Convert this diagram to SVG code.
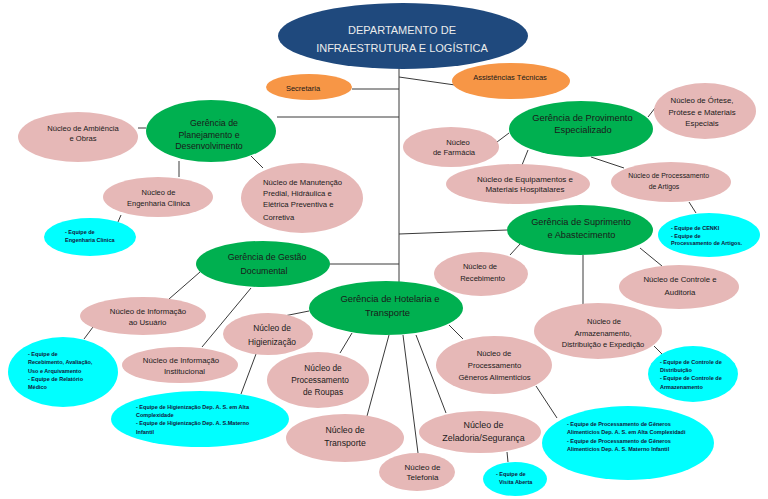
<svg xmlns="http://www.w3.org/2000/svg" width="768" height="499" viewBox="0 0 768 499">
<style>
.bg{fill:#ffffff}
.dept{fill:#1f497d}
.org{fill:#f79646}
.grn{fill:#00b050}
.pnk{fill:#e6b8b7}
.cyn{fill:#00ffff}
text{font-family:"Liberation Sans",Arial,sans-serif;fill:#1a1a1a}
.c{text-anchor:middle}
.dt{fill:#ececec;font-size:11px}
.ot{font-size:7.5px}
.eq{font-size:5.5px;font-weight:bold;fill:#10163a}
#connectors line{stroke:#3a3a3a;stroke-width:1}
</style>
<rect class="bg" x="0" y="0" width="768" height="499"/>
<g id="connectors">
<line x1="399" y1="68" x2="399" y2="282"/>
<line x1="352" y1="89" x2="399" y2="89"/>
<line x1="399" y1="77" x2="455" y2="85"/>
<line x1="277" y1="117" x2="399" y2="117"/>
<line x1="138" y1="128" x2="146" y2="128"/>
<line x1="179" y1="161" x2="179" y2="177"/>
<line x1="121" y1="215" x2="118" y2="222"/>
<line x1="251" y1="156" x2="263" y2="168"/>
<line x1="497" y1="142" x2="509" y2="133"/>
<line x1="648" y1="117" x2="655" y2="108"/>
<line x1="528" y1="150" x2="522" y2="165"/>
<line x1="591" y1="157" x2="624" y2="168"/>
<line x1="689" y1="202" x2="696" y2="213"/>
<line x1="399" y1="234" x2="507" y2="230"/>
<line x1="520" y1="244" x2="510" y2="255"/>
<line x1="640" y1="248" x2="662" y2="266"/>
<line x1="583" y1="255" x2="583" y2="304"/>
<line x1="654" y1="346" x2="663" y2="355"/>
<line x1="330" y1="264" x2="399" y2="264"/>
<line x1="200" y1="272" x2="169" y2="299"/>
<line x1="93" y1="327" x2="84" y2="339"/>
<line x1="251" y1="288" x2="202" y2="347"/>
<line x1="284" y1="316" x2="309" y2="311"/>
<line x1="256" y1="354" x2="241" y2="394"/>
<line x1="352" y1="333" x2="340" y2="353"/>
<line x1="389" y1="335" x2="367" y2="416"/>
<line x1="403" y1="335" x2="418" y2="453"/>
<line x1="416" y1="335" x2="446" y2="413"/>
<line x1="507" y1="452" x2="508" y2="462"/>
<line x1="449" y1="325" x2="463" y2="339"/>
<line x1="536" y1="386" x2="557" y2="418"/>
</g>

<g id="dept">
<ellipse class="dept" cx="403" cy="36" rx="125" ry="33"/>
<text class="c dt" x="402" y="34">DEPARTAMENTO DE</text>
<text class="c dt" x="402" y="52">INFRAESTRUTURA E LOGÍSTICA</text>
</g>

<g id="secretaria">
<ellipse class="org" cx="309" cy="87" rx="43" ry="13"/>
<text class="c ot" x="303" y="90.5">Secretaria</text>
</g>

<g id="assistencias">
<ellipse class="org" cx="511" cy="81" rx="59" ry="18"/>
<text class="c ot" x="510" y="79.5">Assistências Técnicas</text>
</g>

<g id="ger-planejamento">
<ellipse class="grn" cx="211" cy="131" rx="65" ry="31"/>
<text class="c" font-size="8.8" x="214" y="126">Gerência de</text>
<text class="c" font-size="8.8" x="209" y="137.5">Planejamento e</text>
<text class="c" font-size="8.8" x="209" y="149">Desenvolvimento</text>
</g>

<g id="nuc-ambiencia">
<ellipse class="pnk" cx="78" cy="137" rx="60" ry="25"/>
<text class="c" font-size="7.6" x="83" y="130.5">Núcleo de Ambiência</text>
<text class="c" font-size="7.6" x="83" y="140.5">e Obras</text>
</g>

<g id="nuc-engenharia">
<ellipse class="pnk" cx="158" cy="197" rx="55" ry="20"/>
<text class="c" font-size="7.5" x="158.5" y="194.5">Núcleo de</text>
<text class="c" font-size="7.5" x="158.5" y="205.5">Engenharia Clinica</text>
</g>

<g id="eq-engenharia">
<ellipse class="cyn" cx="90" cy="237" rx="46" ry="19"/>
<text class="eq" x="65" y="234">- Equipe de</text>
<text class="eq" x="65" y="242">Engenharia Clinica</text>
</g>

<g id="nuc-manutencao">
<ellipse class="pnk" cx="302" cy="198" rx="61" ry="35"/>
<text font-size="7.7" x="263" y="184.5">Núcleo de Manutenção</text>
<text font-size="7.7" x="263" y="195.5">Predial, Hidráulica e</text>
<text font-size="7.7" x="263" y="206.5">Elétrica Preventiva e</text>
<text font-size="7.7" x="263" y="219.5">Corretiva</text>
</g>

<g id="ger-provimento">
<ellipse class="grn" cx="581" cy="129" rx="72" ry="28"/>
<text class="c" font-size="9.3" x="582.5" y="121">Gerência de Provimento</text>
<text class="c" font-size="9.3" x="583" y="133">Especializado</text>
</g>

<g id="nuc-ortese">
<ellipse class="pnk" cx="705" cy="111" rx="51" ry="28"/>
<text class="c" font-size="7.8" x="702" y="102.6">Núcleo de Órtese,</text>
<text class="c" font-size="7.8" x="702" y="114.6">Prótese e Materiais</text>
<text class="c" font-size="7.8" x="702" y="125.6">Especiais</text>
</g>

<g id="nuc-farmacia">
<ellipse class="pnk" cx="451" cy="147" rx="48" ry="20"/>
<text class="c" font-size="7.6" x="458" y="144.5">Núcleo</text>
<text class="c" font-size="7.6" x="454" y="154.5">de Farmácia</text>
</g>

<g id="nuc-equipamentos">
<ellipse class="pnk" cx="518" cy="184" rx="72" ry="20"/>
<text class="c" font-size="8" x="525" y="181.6">Núcleo de Equipamentos e</text>
<text class="c" font-size="8" x="525" y="191.6">Materiais Hospitalares</text>
</g>

<g id="nuc-artigos">
<ellipse class="pnk" cx="671" cy="182" rx="60" ry="20"/>
<text class="c" font-size="6.9" x="668.7" y="178.3">Núcleo de Processamento</text>
<text class="c" font-size="6.9" x="664" y="189.3">de Artigos</text>
</g>

<g id="eq-cenki">
<ellipse class="cyn" cx="709" cy="235" rx="51" ry="22"/>
<text class="eq" x="671" y="230">- Equipe de CENKI</text>
<text class="eq" x="671" y="237.5">- Equipe de</text>
<text class="eq" x="671" y="245">Processamento de Artigos.</text>
</g>

<g id="ger-suprimento">
<ellipse class="grn" cx="580" cy="230" rx="73" ry="25"/>
<text class="c" font-size="9.2" x="581" y="225">Gerência de Suprimento</text>
<text class="c" font-size="9.2" x="581.5" y="238">e Abastecimento</text>
</g>

<g id="nuc-recebimento">
<ellipse class="pnk" cx="481" cy="274" rx="47" ry="22"/>
<text class="c" font-size="7.6" x="480" y="268.5">Núcleo de</text>
<text class="c" font-size="7.6" x="482.5" y="280.5">Recebimento</text>
</g>

<g id="nuc-controle">
<ellipse class="pnk" cx="679" cy="287" rx="60" ry="22"/>
<text class="c" font-size="7.8" x="680" y="281.6">Núcleo de Controle e</text>
<text class="c" font-size="7.8" x="680" y="294.6">Auditoria</text>
</g>

<g id="nuc-armazenamento">
<ellipse class="pnk" cx="598" cy="331" rx="64" ry="28"/>
<text class="c" font-size="7.5" x="604" y="323.5">Núcleo de</text>
<text class="c" font-size="7.5" x="603" y="335.5">Armazenamento,</text>
<text class="c" font-size="7.5" x="603" y="346.5">Distribuição e Expedição</text>
</g>

<g id="eq-armazenamento">
<ellipse class="cyn" cx="693" cy="374" rx="45" ry="28"/>
<text class="eq" x="660" y="364">- Equipe de Controle de</text>
<text class="eq" x="660" y="372">Distribuição</text>
<text class="eq" x="660" y="380">- Equipe de Controle de</text>
<text class="eq" x="660" y="389">Armazenamento</text>
</g>

<g id="ger-gestao">
<ellipse class="grn" cx="263" cy="264" rx="67" ry="23"/>
<text class="c" font-size="8.8" x="267" y="260">Gerência de Gestão</text>
<text class="c" font-size="8.8" x="264" y="274">Documental</text>
</g>

<g id="ger-hotelaria">
<ellipse class="grn" cx="386" cy="308" rx="77" ry="27"/>
<text class="c" font-size="9.4" x="390" y="302">Gerência de Hotelaria e</text>
<text class="c" font-size="9.4" x="387.5" y="316">Transporte</text>
</g>

<g id="nuc-info-usuario">
<ellipse class="pnk" cx="143" cy="316" rx="63" ry="19"/>
<text class="c" font-size="7.8" x="148" y="313.6">Núcleo de Informação</text>
<text class="c" font-size="7.8" x="147.5" y="324.6">ao Usuário</text>
</g>

<g id="eq-recebimento">
<ellipse class="cyn" cx="63" cy="372" rx="55" ry="35"/>
<text class="eq" x="28" y="356">- Equipe de</text>
<text class="eq" x="28" y="364">Recebimento, Avaliação,</text>
<text class="eq" x="28" y="373">Uso e Arquivamento</text>
<text class="eq" x="28" y="381">- Equipe de Relatório</text>
<text class="eq" x="28" y="389">Médico</text>
</g>

<g id="nuc-info-inst">
<ellipse class="pnk" cx="180" cy="365" rx="58" ry="18"/>
<text class="c" font-size="7.8" x="181" y="362.6">Núcleo de Informação</text>
<text class="c" font-size="7.8" x="184.5" y="373.6">Institucional</text>
</g>

<g id="nuc-higienizacao">
<ellipse class="pnk" cx="268" cy="334" rx="45" ry="21"/>
<text class="c" font-size="8.4" x="272" y="330.8">Núcleo de</text>
<text class="c" font-size="8.4" x="272" y="344.8">Higienização</text>
</g>

<g id="eq-higienizacao">
<ellipse class="cyn" cx="200" cy="419" rx="89" ry="28"/>
<text class="eq" x="136" y="409">- Equipe de Higienização Dep. A. S. em Alta</text>
<text class="eq" x="136" y="416.5">Complexidade</text>
<text class="eq" x="136" y="425.3">- Equipe de Higienização Dep. A. S.Materno</text>
<text class="eq" x="136" y="433.7">Infantil</text>
</g>

<g id="nuc-roupas">
<ellipse class="pnk" cx="318" cy="380" rx="51" ry="28"/>
<text class="c" font-size="8.3" x="323" y="370.8">Núcleo de</text>
<text class="c" font-size="8.3" x="320" y="382.8">Processamento</text>
<text class="c" font-size="8.3" x="323" y="394.8">de Roupas</text>
</g>

<g id="nuc-transporte">
<ellipse class="pnk" cx="345" cy="438" rx="59" ry="24"/>
<text class="c" font-size="8.7" x="345" y="433">Núcleo de</text>
<text class="c" font-size="8.7" x="345" y="446">Transporte</text>
</g>

<g id="nuc-telefonia">
<ellipse class="pnk" cx="417" cy="472" rx="38" ry="19"/>
<text class="c" font-size="8" x="422.5" y="469.6">Núcleo de</text>
<text class="c" font-size="8" x="422.5" y="479.6">Telefonia</text>
</g>

<g id="nuc-zeladoria">
<ellipse class="pnk" cx="480" cy="432" rx="61" ry="21"/>
<text class="c" font-size="8.9" x="483.5" y="428">Núcleo de</text>
<text class="c" font-size="8.9" x="483.5" y="441">Zeladoria/Segurança</text>
</g>

<g id="eq-visita">
<ellipse class="cyn" cx="515" cy="479" rx="32" ry="17"/>
<text class="eq" x="496" y="476">- Equipe de</text>
<text class="eq" x="499" y="484">Visita Aberta</text>
</g>

<g id="nuc-generos">
<ellipse class="pnk" cx="494" cy="365" rx="58" ry="29"/>
<text class="c" font-size="7.7" x="494" y="355.5">Núcleo de</text>
<text class="c" font-size="7.7" x="494.5" y="367.5">Processamento</text>
<text class="c" font-size="7.7" x="494.5" y="379.5">Gêneros Alimenticios</text>
</g>

<g id="eq-generos">
<ellipse class="cyn" cx="628" cy="443" rx="86" ry="37"/>
<text class="eq" x="567" y="426">- Equipe de Processamento de Gêneros</text>
<text class="eq" x="567" y="434">Alimenticios Dep. A. S. em Alta Complexidadi</text>
<text class="eq" x="567" y="443">- Equipe de Processamento de Gêneros</text>
<text class="eq" x="567" y="451">Alimenticios Dep. A. S. Materno Infantil</text>
</g>
</svg>
